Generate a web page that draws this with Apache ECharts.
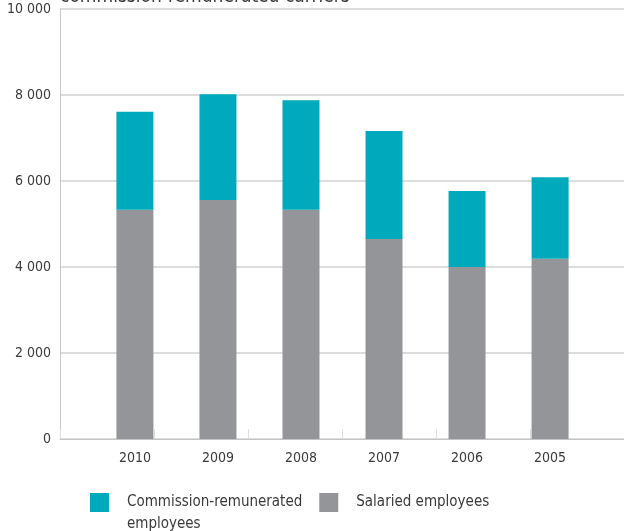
<!DOCTYPE html>
<html>
<head>
<meta charset="utf-8">
<script src="https://cdn.jsdelivr.net/npm/echarts@6/dist/echarts.min.js"></script>
<style>
  html, body { margin: 0; padding: 0; background: #ffffff; }
  #chart { width: 624px; height: 531px; }
</style>
</head>
<body>
<div id="chart"></div>
<script>
// Carriers by year: salaried vs commission-remunerated
const years = ['2010', '2009', '2008', '2007', '2006', '2005'];
const salaried = [5330, 5560, 5330, 4650, 4000, 4190];
const commission = [2280, 2460, 2550, 2510, 1770, 1900];
const yTicks = { min: 0, max: 10000, step: 2000 };

const FONT = "'DejaVu Sans Condensed', 'Liberation Sans', sans-serif";
const TEXT = '#3a3a3a';
const CYAN = '#00aabd';
const GREY = '#949599';

const fmtThousands = v => String(v).replace(/\B(?=(\d{3})+(?!\d))/g, ' ');

const chart = echarts.init(document.getElementById('chart'), null, { renderer: 'canvas' });

chart.setOption({
  animation: false,
  backgroundColor: '#ffffff',
  textStyle: { fontFamily: FONT, color: TEXT },
  graphic: [{
    type: 'text',
    left: 60,
    top: -12,
    style: {
      text: 'commission-remunerated carriers',
      font: '19px ' + FONT,
      fill: TEXT
    }
  }],
  legend: {
    left: 90,
    top: 469.5,
    padding: 0,
    orient: 'horizontal',
    itemWidth: 19,
    itemHeight: 19,
    itemGap: 17,
    icon: 'rect',
    // the long name wraps onto a second line below its swatch
    formatter: name => name === 'Commission-remunerated employees'
      ? '\nCommission-remunerated\nemployees' : name,
    textStyle: { fontFamily: FONT, fontSize: 15, color: TEXT, lineHeight: 22, padding: [0, 0, 0, 13] },
    data: ['Commission-remunerated employees', 'Salaried employees']
  },
  grid: [
    // frame: value axis, grid lines and the tick-marked base line
    { left: 60, right: 0, top: 9, bottom: 92, containLabel: false },
    // bars and year labels
    { left: 93.4, right: 32.4, top: 9, bottom: 92, containLabel: false }
  ],
  xAxis: [
    {
      type: 'category',
      gridIndex: 0,
      data: years.map(() => ''),
      boundaryGap: true,
      axisLine: { show: true, lineStyle: { color: '#c4c4c4', width: 1 } },
      axisTick: { show: true, inside: true, length: 10, lineStyle: { color: '#dedede', width: 1 } },
      axisLabel: { show: false },
      splitLine: { show: false }
    },
    {
      type: 'category',
      gridIndex: 1,
      data: years,
      axisLine: { show: false },
      axisTick: { show: false },
      axisLabel: { fontFamily: FONT, fontSize: 14, color: TEXT, margin: 12 },
      splitLine: { show: false }
    }
  ],
  yAxis: [
    {
      type: 'value',
      gridIndex: 0,
      min: yTicks.min,
      max: yTicks.max,
      interval: yTicks.step,
      axisLine: { show: true, lineStyle: { color: '#c8c8c8', width: 1 } },
      axisTick: { show: false },
      axisLabel: { fontFamily: FONT, fontSize: 14, color: TEXT, margin: 9, formatter: fmtThousands },
      splitLine: { show: true, lineStyle: { color: '#dddddd', width: 2 } }
    },
    {
      type: 'value',
      gridIndex: 1,
      min: yTicks.min,
      max: yTicks.max,
      interval: yTicks.step,
      axisLine: { show: false },
      axisTick: { show: false },
      axisLabel: { show: false },
      splitLine: { show: false }
    }
  ],
  series: [
    {
      name: 'Salaried employees',
      type: 'bar',
      xAxisIndex: 1,
      yAxisIndex: 1,
      stack: 'carriers',
      barWidth: 37,
      itemStyle: { color: GREY },
      data: salaried
    },
    {
      name: 'Commission-remunerated employees',
      type: 'bar',
      xAxisIndex: 1,
      yAxisIndex: 1,
      stack: 'carriers',
      barWidth: 37,
      itemStyle: { color: CYAN },
      data: commission
    }
  ]
});
</script>
</body>
</html>
